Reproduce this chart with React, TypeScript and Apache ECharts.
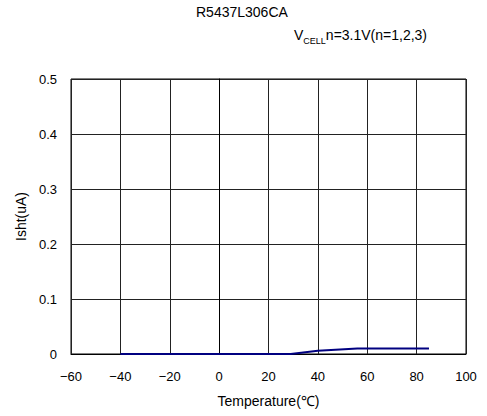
import React, { useEffect, useRef } from "react";
import * as echarts from "echarts";

const temps = [-40, 29, 40, 56, 85];
const isht = [0, 0, 0.006, 0.01, 0.01];
const xTicks = { min: -60, max: 100, interval: 20 };
const yTicks = { min: 0, max: 0.5, interval: 0.1 };

export default function App() {
  const ref = useRef<HTMLDivElement>(null);
  useEffect(() => {
    const chart = echarts.init(ref.current!, null, { renderer: "svg" });
    const font = "'Liberation Sans', Arial, sans-serif";
    chart.setOption({
      animation: false,
      backgroundColor: "#fff",
      textStyle: { fontFamily: font },
      title: [
        {
          text: "R5437L306CA",
          left: 196,
          top: 5,
          padding: 0,
          textStyle: { fontSize: 14, fontWeight: "normal", color: "#000", fontFamily: font },
        },
        {
          text: "{v|V}{s|CELL}{v|n=3.1V(n=1,2,3)}",
          left: 294,
          top: 26,
          padding: 0,
          textStyle: {
            fontFamily: font,
            fontWeight: "normal",
            rich: {
              v: { fontSize: 14, fontWeight: "normal", color: "#000", fontFamily: font, verticalAlign: "bottom", lineHeight: 16 },
              s: { fontSize: 9, fontWeight: "normal", color: "#000", fontFamily: font, verticalAlign: "bottom", lineHeight: 12, padding: [0, 0, -3, 0] },
            },
          },
        },
      ],
      grid: { left: 71, right: 21, top: 79, bottom: 62, show: true, borderColor: "#000", borderWidth: 1 },
      xAxis: {
        type: "value",
        min: xTicks.min,
        max: xTicks.max,
        interval: xTicks.interval,
        name: "Temperature(℃)",
        nameLocation: "middle",
        nameGap: 40,
        nameTextStyle: { fontSize: 14, color: "#000", fontFamily: font },
        axisLine: { show: true, lineStyle: { color: "#000" } },
        axisTick: { show: false },
        axisLabel: {
          margin: 16,
          fontSize: 13,
          color: "#000",
          fontFamily: font,
          formatter: (v: number) => String(v).replace("-", "−"),
        },
        splitLine: { show: true, lineStyle: { color: "#222", width: 1 } },
      },
      yAxis: {
        type: "value",
        min: yTicks.min,
        max: yTicks.max,
        interval: yTicks.interval,
        name: "Isht(uA)",
        nameLocation: "middle",
        nameGap: 36,
        nameTextStyle: { fontSize: 14, color: "#000", fontFamily: font },
        axisLine: { show: true, lineStyle: { color: "#000" } },
        axisTick: { show: false },
        axisLabel: {
          margin: 14,
          fontSize: 13,
          color: "#000",
          fontFamily: font,
          formatter: (v: number) => (v === 0 ? "0" : v.toFixed(1)),
        },
        splitLine: { show: true, lineStyle: { color: "#222", width: 1 } },
      },
      series: [
        {
          type: "line",
          data: temps.map((t, i) => [t, isht[i]]),
          showSymbol: false,
          lineStyle: { color: "#000080", width: 2 },
          itemStyle: { color: "#000080" },
        },
      ],
    });
    return () => chart.dispose();
  }, []);
  return <div ref={ref} style={{ position: "fixed", left: 0, top: 0, width: 487, height: 416 }} />;
}
